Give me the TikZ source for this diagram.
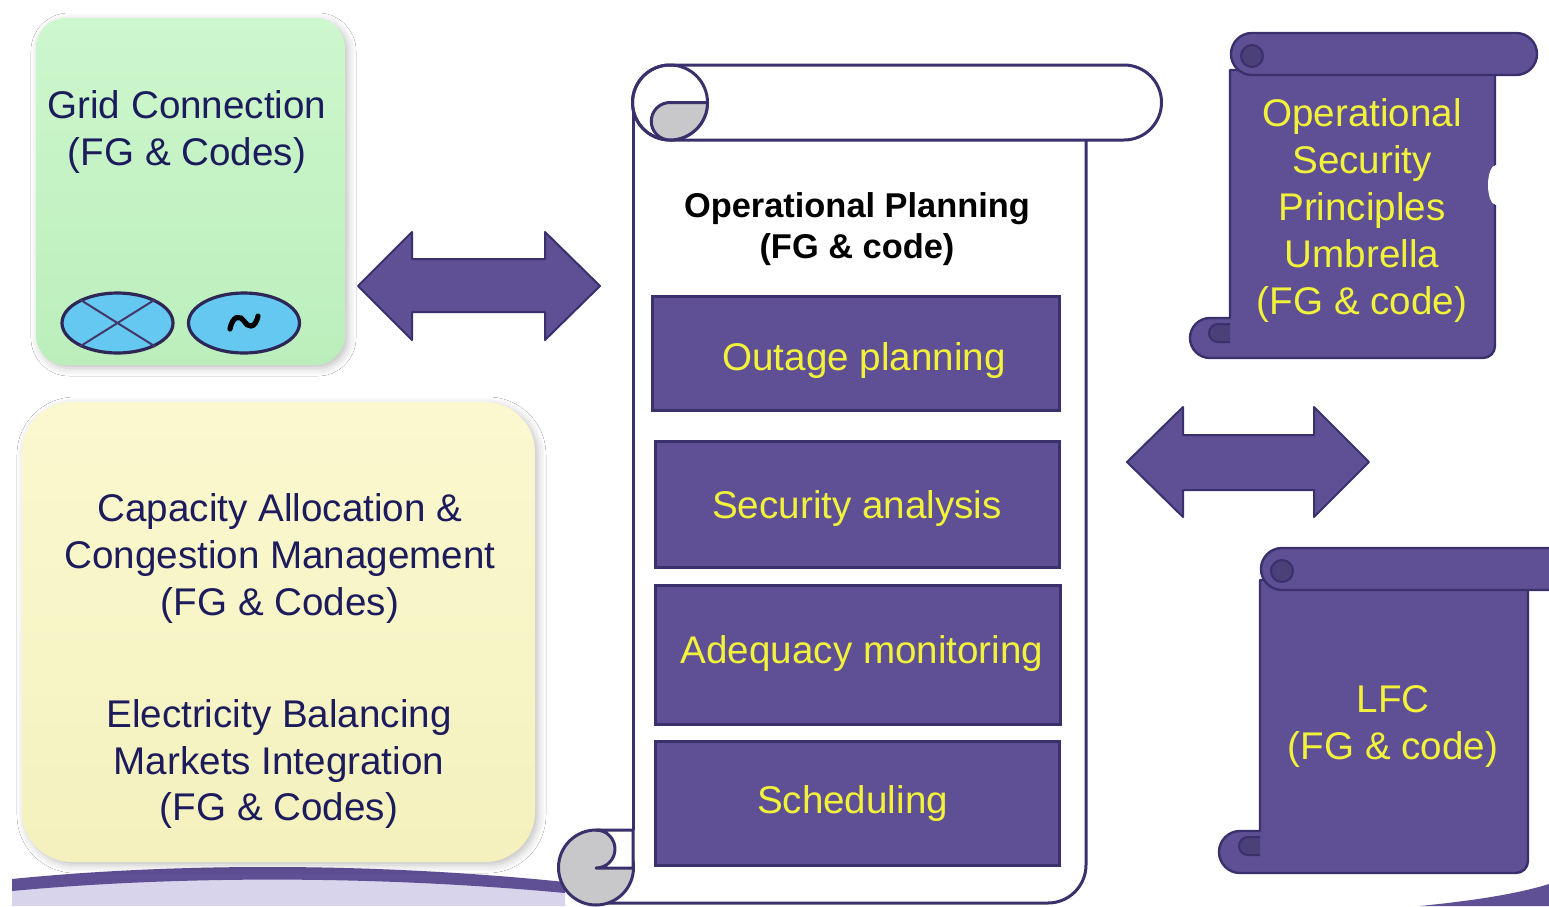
\documentclass[tikz,border=0pt]{standalone}
\usepackage{fontspec}
\setmainfont{Liberation Sans}
\usetikzlibrary{shapes.geometric,shadows.blur}
\definecolor{purp}{RGB}{95,80,150}
\definecolor{purpdk}{RGB}{58,48,108}
\definecolor{navy}{RGB}{28,28,92}
\definecolor{yel}{RGB}{242,242,58}
\definecolor{grntop}{RGB}{205,247,205}
\definecolor{grnbot}{RGB}{188,238,188}
\definecolor{ylwtop}{RGB}{251,248,208}
\definecolor{ylwbot}{RGB}{244,241,190}
\definecolor{curlgrey}{RGB}{200,200,202}
\definecolor{skyb}{RGB}{100,200,240}
\definecolor{lav}{RGB}{200,194,228}
\tikzset{
  bigtxt/.style={font=\fontsize{19.3}{23.5}\selectfont, align=center, inner sep=0pt},
  navytxt/.style={bigtxt, text=navy},
  yeltxt/.style={bigtxt, text=yel},
  purpbox/.style={draw=purpdk, line width=1.5pt, fill=purp, inner sep=0pt},
  softbox/.style={draw=none, inner sep=0pt, blur shadow={shadow xshift=1.5pt, shadow yshift=-1.5pt, shadow blur radius=4pt, shadow opacity=25}},
  blockarrow/.style={fill=purp, draw=purpdk, line width=1pt, line join=round},
  scrollfill/.style={fill=purp, draw=purpdk, line width=1.2pt, line join=round},
  sheet/.style={draw=purpdk, line width=1.5pt, line join=round},
  switchell/.style={ellipse, draw=purpdk!80!black, line width=1.6pt, fill=skyb, minimum width=55.5pt, minimum height=30pt, inner sep=0pt}
}
\begin{document}
\begin{tikzpicture}[x=0.5pt,y=-0.5pt]
\useasboundingbox (0,0) rectangle (1549,906);
\clip (0,0) rectangle (1549,906);
\fill[white] (0,0) rectangle (1549,906);

% bottom swooshes
\fill[lav!70!white] (12,890) .. controls (150,877) and (350,872) .. (565,892) -- (565,906) -- (12,906) -- cycle;
\fill[purp] (12,879) .. controls (150,865) and (350,860) .. (565,882) -- (565,893) .. controls (350,873) and (150,878) .. (12,891) -- cycle;
\fill[purp] (1420,906) .. controls (1480,900) and (1520,893) .. (1549,884) -- (1549,906) -- cycle;

% green box
\node[softbox, rounded corners=15pt, top color=grntop, bottom color=grnbot, minimum width=154.5pt, minimum height=173.5pt] (grid) at (190.5,191.5) {};
\node[navytxt] (gridtxt) at (187,132) {Grid Connection\\(FG \& Codes)};
\node[switchell] (sw1) at (117.5,323) {};
\draw[purp!70!black, line width=1pt] (sw1.148) -- (sw1.-32);
\draw[purp!70!black, line width=1pt] (sw1.-148) -- (sw1.32);
\node[switchell] (sw2) at (244,323) {};
\draw[black, line width=2.6pt, line cap=round] (230,329) .. controls (233,314) and (241,316) .. (244,321) .. controls (247,327) and (255,330) .. (258,316);

% yellow box
\node[softbox, rounded corners=25pt, top color=ylwtop, bottom color=ylwbot, minimum width=256.5pt, minimum height=230pt] (market) at (278.5,632) {};
\node[navytxt] (cacm) at (280,559) {Capacity Allocation \&\\Congestion Management\\(FG \& Codes)};
\node[navytxt] (ebmi) at (279,764) {Electricity Balancing\\Markets Integration\\(FG \& Codes)};

% left double arrow
\path[blockarrow] (358,286) -- (412,232) -- (412,259) -- (545,259) -- (545,232) -- (600,286) -- (545,340) -- (545,312) -- (412,312) -- (412,340) -- cycle;
% right double arrow
\path[blockarrow] (1127,462) -- (1183,407) -- (1183,435) -- (1314,435) -- (1314,407) -- (1369,462) -- (1314,517) -- (1314,490) -- (1183,490) -- (1183,517) -- cycle;

% central scroll
\path[fill=white] (633,102) -- (1086,102) -- (1086,865) arc[start angle=0,end angle=90,radius=38] -- (600,903) -- (600,830) -- (633,830) -- cycle;
\draw[sheet] (633,102) -- (633,830);
\draw[sheet] (1086,140) -- (1086,865) arc[start angle=0,end angle=90,radius=38] -- (600,903);
\draw[sheet, fill=curlgrey] (596,867.5) circle[radius=37.5];
\draw[sheet, fill=white] (596,830) -- (633,830) -- (633,868) -- (596,868) arc[start angle=90,end angle=-90,radius=19] -- cycle;
\draw[sheet, fill=white] (670,65) -- (1124,65) arc[start angle=-90,end angle=90,radius=37.5] -- (670,140) arc[start angle=90,end angle=270,radius=37.5] -- cycle;
\draw[sheet] (670,102.5) circle[radius=37.5];
\draw[sheet, fill=curlgrey] (707.5,102.5) -- (670,102.5) arc[start angle=-90,end angle=-270,radius=18.75] arc[start angle=90,end angle=0,radius=37.5] -- cycle;

\node[font=\bfseries\fontsize{17.2}{20.5}\selectfont, align=center, inner sep=0pt] (optitle) at (857,229) {Operational Planning\\(FG \& code)};

\node[purpbox, minimum width=203.5pt, minimum height=57pt] (outage) at (855.5,353) {};
\node[yeltxt] (outagetxt) at (864,361) {Outage planning};
\node[purpbox, minimum width=202pt, minimum height=63pt] (secan) at (857,504) {};
\node[yeltxt] (secantxt) at (857,509) {Security analysis};
\node[purpbox, minimum width=202.5pt, minimum height=69.5pt] (adeq) at (857.5,654.5) {};
\node[yeltxt] (adeqtxt) at (862,654) {Adequacy monitoring};
\node[purpbox, minimum width=202pt, minimum height=62pt] (sched) at (857,803) {};
\node[yeltxt] (schedtxt) at (852.5,804) {Scheduling};

% right top scroll
\path[scrollfill] (1230,70) -- (1495,70) -- (1495,346) arc[start angle=0,end angle=90,radius=12] -- (1210,358) arc[start angle=90,end angle=270,radius=20] -- (1230,318) -- cycle;
\draw[purpdk, line width=1pt, fill=purp!80!black] (1230,324) -- (1218,324) arc[start angle=-90,end angle=-270,radius=9] -- (1230,342);
\fill[white] (1496,185) ellipse[x radius=8, y radius=20];
\path[scrollfill] (1252,33) -- (1516,33) arc[start angle=-90,end angle=90,radius=21] -- (1252,75) arc[start angle=90,end angle=270,radius=21] -- cycle;
\draw[purpdk, line width=1pt, fill=purp!80!black] (1252,56) circle[radius=11];
\node[yeltxt] (ospu) at (1362,211) {Operational\\Security\\Principles\\Umbrella\\(FG \& code)};

% right bottom scroll
\path[scrollfill] (1260,580) -- (1528,580) -- (1528,861) arc[start angle=0,end angle=90,radius=12] -- (1240,873) arc[start angle=90,end angle=270,radius=21] -- (1260,831) -- cycle;
\draw[purpdk, line width=1pt, fill=purp!80!black] (1260,837) -- (1248,837) arc[start angle=-90,end angle=-270,radius=9] -- (1260,855);
\path[scrollfill] (1282,548) -- (1570,548) -- (1570,590) -- (1282,590) arc[start angle=90,end angle=270,radius=21] -- cycle;
\draw[purpdk, line width=1pt, fill=purp!80!black] (1282,571) circle[radius=11];
\node[yeltxt] (lfc) at (1393,727) {LFC\\(FG \& code)};
\end{tikzpicture}
\end{document}
